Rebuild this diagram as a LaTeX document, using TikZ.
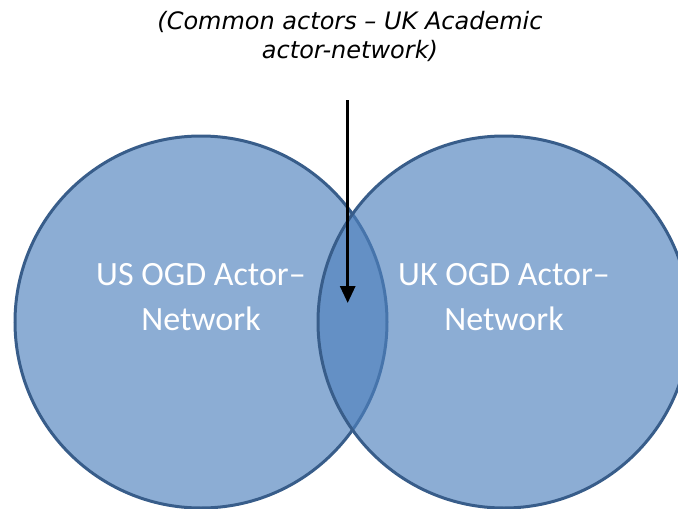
\documentclass[tikz,border=0pt]{standalone}
\usepackage{fontspec}
\usetikzlibrary{arrows.meta}
\newfontfamily\vennfont{Carlito}
\newfontfamily\notefont{DejaVu Sans}
\definecolor{vennfill}{HTML}{4F81BD}
\definecolor{vennline}{HTML}{385D8A}
\tikzset{
	venn/.style={circle, minimum size=372pt, inner sep=0pt, fill=vennfill, fill opacity=0.65, draw=vennline, draw opacity=1, line width=3pt},
	vennlabel/.style={text=white, align=center, inner sep=0pt, font=\vennfont\fontsize{34}{45}\selectfont},
	notelabel/.style={align=center, inner sep=0pt, font=\notefont\itshape\fontsize{24}{29}\selectfont}
}

\begin{document}
\begin{tikzpicture}[x=1pt, y=-1pt]
			%%%%% START %%%%%
			\clip (0, 0) rectangle (678, 509);
			
			\node[venn] (us) at (201, 322) {};
			\node[venn] (uk) at (504, 322) {};
			
			\node[vennlabel] (uslabel) at (201, 297) {US OGD Actor–\\Network};
			\node[vennlabel] (uklabel) at (504, 297) {UK OGD Actor–\\Network};
			
			\node[notelabel] (note) at (350, 36) {(Common actors – UK Academic\\actor-network)};
			
			\coordinate (start) at (347.7, 100);
			\coordinate (common) at (347.7, 303);
			\draw[line width=3pt, -{Triangle[width=15pt, length=17pt]}] (start) -- (common);
			%%%%% END %%%%%
		\end{tikzpicture}
\end{document}
